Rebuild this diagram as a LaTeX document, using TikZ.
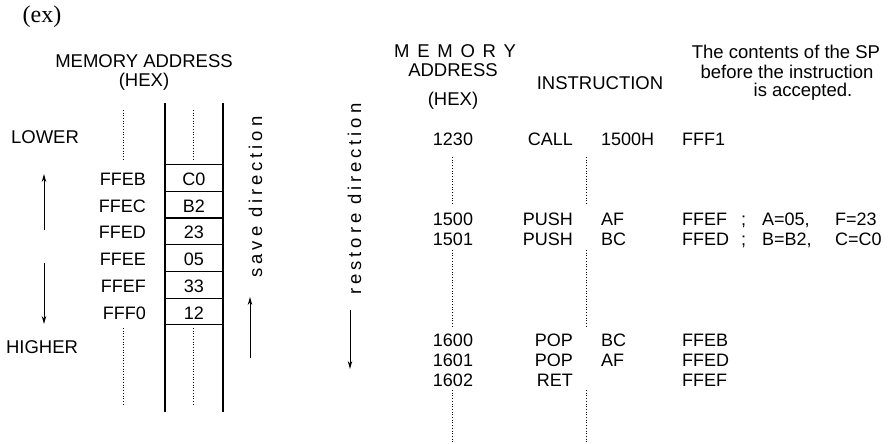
\documentclass[tikz,border=0pt]{standalone}
\usepackage{fontspec}
\newfontfamily\lab{Liberation Sans}
\newfontfamily\labsp{Liberation Sans}[LetterSpace=21]
\newfontfamily\labmem{Liberation Sans}[LetterSpace=42]
\newfontfamily\code{Liberation Sans}
\newfontfamily\exf{Liberation Serif}
\usetikzlibrary{arrows.meta}
\begin{document}
\begin{tikzpicture}[x=1pt,y=-1pt,
  lbl/.style={font=\lab\fontsize{18.5}{21}\selectfont, inner sep=0, anchor=base},
  cd/.style={font=\code\fontsize{18}{20}\selectfont, inner sep=0, anchor=base west},
  cdr/.style={cd, anchor=base east},
  cdc/.style={cd, anchor=base},
  rot/.style={font=\labsp\fontsize{18.5}{21}\selectfont, inner sep=0, anchor=base, rotate=90},
  dots/.style={line width=0.9pt, dash pattern=on 0.9pt off 1.8pt},
  arr/.style={line width=0.9pt, -{Stealth[length=8pt,width=4.5pt]}},
  wall/.style={line width=1.1pt},
  cell/.style={draw, line width=1.1pt, minimum width=58pt, minimum height=26.7pt, inner sep=0, anchor=north west}]
\useasboundingbox (0,0) rectangle (895,444);
% (ex)
\node[inner sep=0, anchor=base, font=\exf\fontsize{24}{28}\selectfont] (ex) at (42,22.5) {(ex)};
% left header
\node[lbl] (mah) at (144,68) {MEMORY ADDRESS};
\node[lbl] (hexl) at (144,87) {(HEX)};
\node[lbl] (lower) at (45,143) {LOWER};
\node[lbl] (higher) at (42,353) {HIGHER};
% stack walls
\coordinate (wl1) at (165,103); \coordinate (wl2) at (165,412);
\coordinate (wr1) at (223,103); \coordinate (wr2) at (223,412);
\draw[wall] (wl1) -- (wl2);
\draw[wall] (wr1) -- (wr2);
% cells
\foreach \i/\v/\a in {0/C0/FFEB,1/B2/FFEC,2/23/FFED,3/05/FFEE,4/33/FFEF,5/12/FFF0}{
  \node[cell] (c\i) at (165,{164+26.7*\i}) {};
  \node[cdc] (v\i) at (194,{185.5+26.7*\i}) {\v};
  \node[cdr] (a\i) at (146,{185.5+26.7*\i}) {\a};
}
% dotted lines left
\coordinate (d1a) at (123,110); \coordinate (d1b) at (123,160);
\coordinate (d2a) at (123,328); \coordinate (d2b) at (123,405);
\coordinate (d3a) at (193,110); \coordinate (d3b) at (193,160);
\coordinate (d4a) at (193,328); \coordinate (d4b) at (193,405);
\draw[dots] (d1a) -- (d1b); \draw[dots] (d2a) -- (d2b);
\draw[dots] (d3a) -- (d3b); \draw[dots] (d4a) -- (d4b);
% left arrows
\coordinate (ua) at (44,230); \coordinate (ub) at (44,174);
\coordinate (da) at (44,263); \coordinate (db) at (44,324);
\draw[arr] (ua) -- (ub);
\draw[arr] (da) -- (db);
% save direction
\node[rot] (save) at (262,197) {save direction};
\coordinate (sa) at (250,358); \coordinate (sb) at (250,297);
\draw[arr] (sa) -- (sb);
% restore direction
\node[rot] (restore) at (361,199) {restore direction};
\coordinate (ra) at (350,310); \coordinate (rb) at (350,369);
\draw[arr] (ra) -- (rb);
% right header
\node[inner sep=0, anchor=base, font=\labmem\fontsize{18.5}{21}\selectfont] (mem) at (455,58) {MEMORY};
\node[lbl] (addr) at (453,77) {ADDRESS};
\node[lbl] (hexr) at (453,106) {(HEX)};
\node[lbl] (instr) at (600,90) {INSTRUCTION};
\node[lbl] (h1) at (786,59) {The contents of the SP};
\node[lbl] (h2) at (787,78) {before the instruction};
\node[lbl] (h3) at (803,97) {is accepted.};
% rows
\node[cdc] (r1a) at (453,145) {1230};
\node[cdr] (r1i) at (573,145) {CALL};
\node[cd] (r1o) at (601,145) {1500H};
\node[cd] (r1s) at (682,145) {FFF1};
\node[cdc] (r2a) at (453,225) {1500};
\node[cdr] (r2i) at (573,225) {PUSH};
\node[cd] (r2o) at (601,225) {AF};
\node[cd] (r2s) at (682,225) {FFEF};
\node[cd] (r2c) at (741,225) {;};
\node[cd] (r2d) at (762,225) {A=05,};
\node[cd] (r2e) at (835,225) {F=23};
\node[cdc] (r3a) at (453,245) {1501};
\node[cdr] (r3i) at (573,245) {PUSH};
\node[cd] (r3o) at (601,245) {BC};
\node[cd] (r3s) at (682,245) {FFED};
\node[cd] (r3c) at (741,245) {;};
\node[cd] (r3d) at (762,245) {B=B2,};
\node[cd] (r3e) at (835,245) {C=C0};
\node[cdc] (r4a) at (453,346) {1600};
\node[cdr] (r4i) at (573,346) {POP};
\node[cd] (r4o) at (601,346) {BC};
\node[cd] (r4s) at (682,346) {FFEB};
\node[cdc] (r5a) at (453,366) {1601};
\node[cdr] (r5i) at (573,366) {POP};
\node[cd] (r5o) at (601,366) {AF};
\node[cd] (r5s) at (682,366) {FFED};
\node[cdc] (r6a) at (453,386) {1602};
\node[cdr] (r6i) at (573,386) {RET};
\node[cd] (r6s) at (682,386) {FFEF};
% dotted lines right
\foreach \x/\n in {452/p,586/q}{
  \coordinate (\n1) at (\x,157); \coordinate (\n2) at (\x,203);
  \coordinate (\n3) at (\x,250); \coordinate (\n4) at (\x,326);
  \coordinate (\n5) at (\x,390); \coordinate (\n6) at (\x,444);
  \draw[dots] (\n1) -- (\n2); \draw[dots] (\n3) -- (\n4); \draw[dots] (\n5) -- (\n6);
}
\end{tikzpicture}
\end{document}
